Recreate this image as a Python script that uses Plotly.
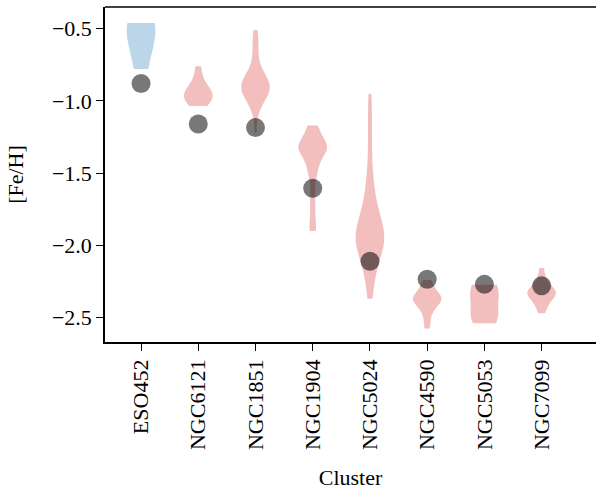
import plotly.graph_objects as go

clusters = ["ESO452", "NGC6121", "NGC1851", "NGC1904", "NGC5024", "NGC4590", "NGC5053", "NGC7099"]

# literature [Fe/H] values (grey dots)
lit_feh = [-0.88, -1.16, -1.185, -1.605, -2.11, -2.235, -2.27, -2.28]

# measured [Fe/H] samples per cluster (violins)
feh_ESO452 = [-0.46, -0.49, -0.52, -0.78]
feh_NGC6121 = [-0.76, -0.84, -0.89, -0.92, -0.94, -0.95, -0.96, -0.98, -1.00, -1.02, -1.035]
feh_NGC1851 = [-0.51, -0.56, -0.61, -0.66, -0.72, -0.76, -0.79, -0.81, -0.83, -0.84, -0.85,
               -0.86, -0.87, -0.88, -0.89, -0.90, -0.90, -0.91, -0.92, -0.93, -0.94, -0.95,
               -0.96, -0.97, -0.98, -1.00, -1.02, -1.05, -1.09, -1.22]
feh_NGC1904 = [-1.17, -1.19, -1.22, -1.25, -1.27, -1.29, -1.30, -1.31, -1.32, -1.33, -1.34,
               -1.35, -1.37, -1.39, -1.42, -1.45, -1.49, -1.53, -1.62, -1.70, -1.78, -1.86, -1.90]
feh_NGC5024 = [-0.95, -1.07, -1.19, -1.31, -1.43,
               -1.52, -1.58, -1.64, -1.68, -1.72, -1.75, -1.78, -1.80, -1.82, -1.84, -1.86,
               -1.88, -1.90, -1.91, -1.92, -1.94, -1.95, -1.96, -1.97, -1.98, -2.00, -2.01,
               -2.03, -2.05, -2.07, -2.09, -2.12, -2.15, -2.19, -2.24, -2.30, -2.37]
feh_NGC4590 = [-2.24, -2.27, -2.30, -2.32, -2.34, -2.35, -2.36, -2.37, -2.38, -2.39, -2.40,
               -2.42, -2.44, -2.47, -2.52, -2.576]
feh_NGC5053 = [-2.273, -2.29, -2.31, -2.36, -2.44, -2.49, -2.52, -2.54]
feh_NGC7099 = [-2.157, -2.22, -2.26, -2.28, -2.30, -2.31, -2.32, -2.33, -2.34, -2.35, -2.36,
               -2.38, -2.40, -2.43, -2.47]

samples = [feh_ESO452, feh_NGC6121, feh_NGC1851, feh_NGC1904, feh_NGC5024,
           feh_NGC4590, feh_NGC5053, feh_NGC7099]
bandwidths = [0.16, 0.05, 0.06, 0.05, 0.1, 0.035, 0.08, 0.035]

BLUE = "rgb(188,214,233)"
RED = "rgb(243,190,190)"
FONT = "Liberation Serif"

fig = go.Figure()
for i, (name, vals, bw) in enumerate(zip(clusters, samples, bandwidths)):
    col = BLUE if i == 0 else RED
    fig.add_trace(go.Violin(
        x=[name] * len(vals), y=vals, name=name,
        spanmode="hard", bandwidth=bw, scalemode="width", width=0.5,
        fillcolor=col, line=dict(width=0, color="rgba(0,0,0,0)"),
        points=False, box_visible=False, meanline_visible=False,
        showlegend=False, hoverinfo="skip",
    ))

fig.add_trace(go.Scatter(
    x=clusters, y=lit_feh, mode="markers",
    marker=dict(size=19, color="rgba(0,0,0,0.53)", line=dict(width=0)),
    showlegend=False,
))

fig.update_layout(
    width=596, height=490,
    margin=dict(l=105, r=0, t=7, b=148),
    paper_bgcolor="white", plot_bgcolor="white",
    violinmode="overlay",
    font=dict(family=FONT, size=22, color="black"),
    shapes=[dict(type="line", xref="paper", yref="paper", x0=0, x1=1, y0=1, y1=1,
                 line=dict(color="black", width=1.6))],
)
fig.update_xaxes(
    type="category", categoryorder="array", categoryarray=clusters,
    range=[-0.63, 7.95], showgrid=False, zeroline=False,
    showline=True, linecolor="black", linewidth=1.6,
    ticks="outside", ticklen=7, tickwidth=1.3, tickcolor="black",
    tickangle=-90, tickfont=dict(family=FONT, size=22),
    title=dict(text="Cluster", font=dict(family=FONT, size=22), standoff=21),
)
fig.update_yaxes(
    range=[-2.669, -0.35], showgrid=False, zeroline=False,
    showline=True, linecolor="black", linewidth=1.6,
    ticks="outside", ticklen=7, tickwidth=1.3, tickcolor="black",
    tickvals=[-0.5, -1.0, -1.5, -2.0, -2.5], ticktext=["−0.5", "−1.0", "−1.5", "−2.0", "−2.5"],
    tickfont=dict(family=FONT, size=22),
    title=dict(text="[Fe/H]", font=dict(family=FONT, size=22), standoff=22),
)

fig.write_html("out.html", config={"displayModeBar": False},
               post_script="document.body.style.margin='0';document.body.style.overflow='hidden';")
